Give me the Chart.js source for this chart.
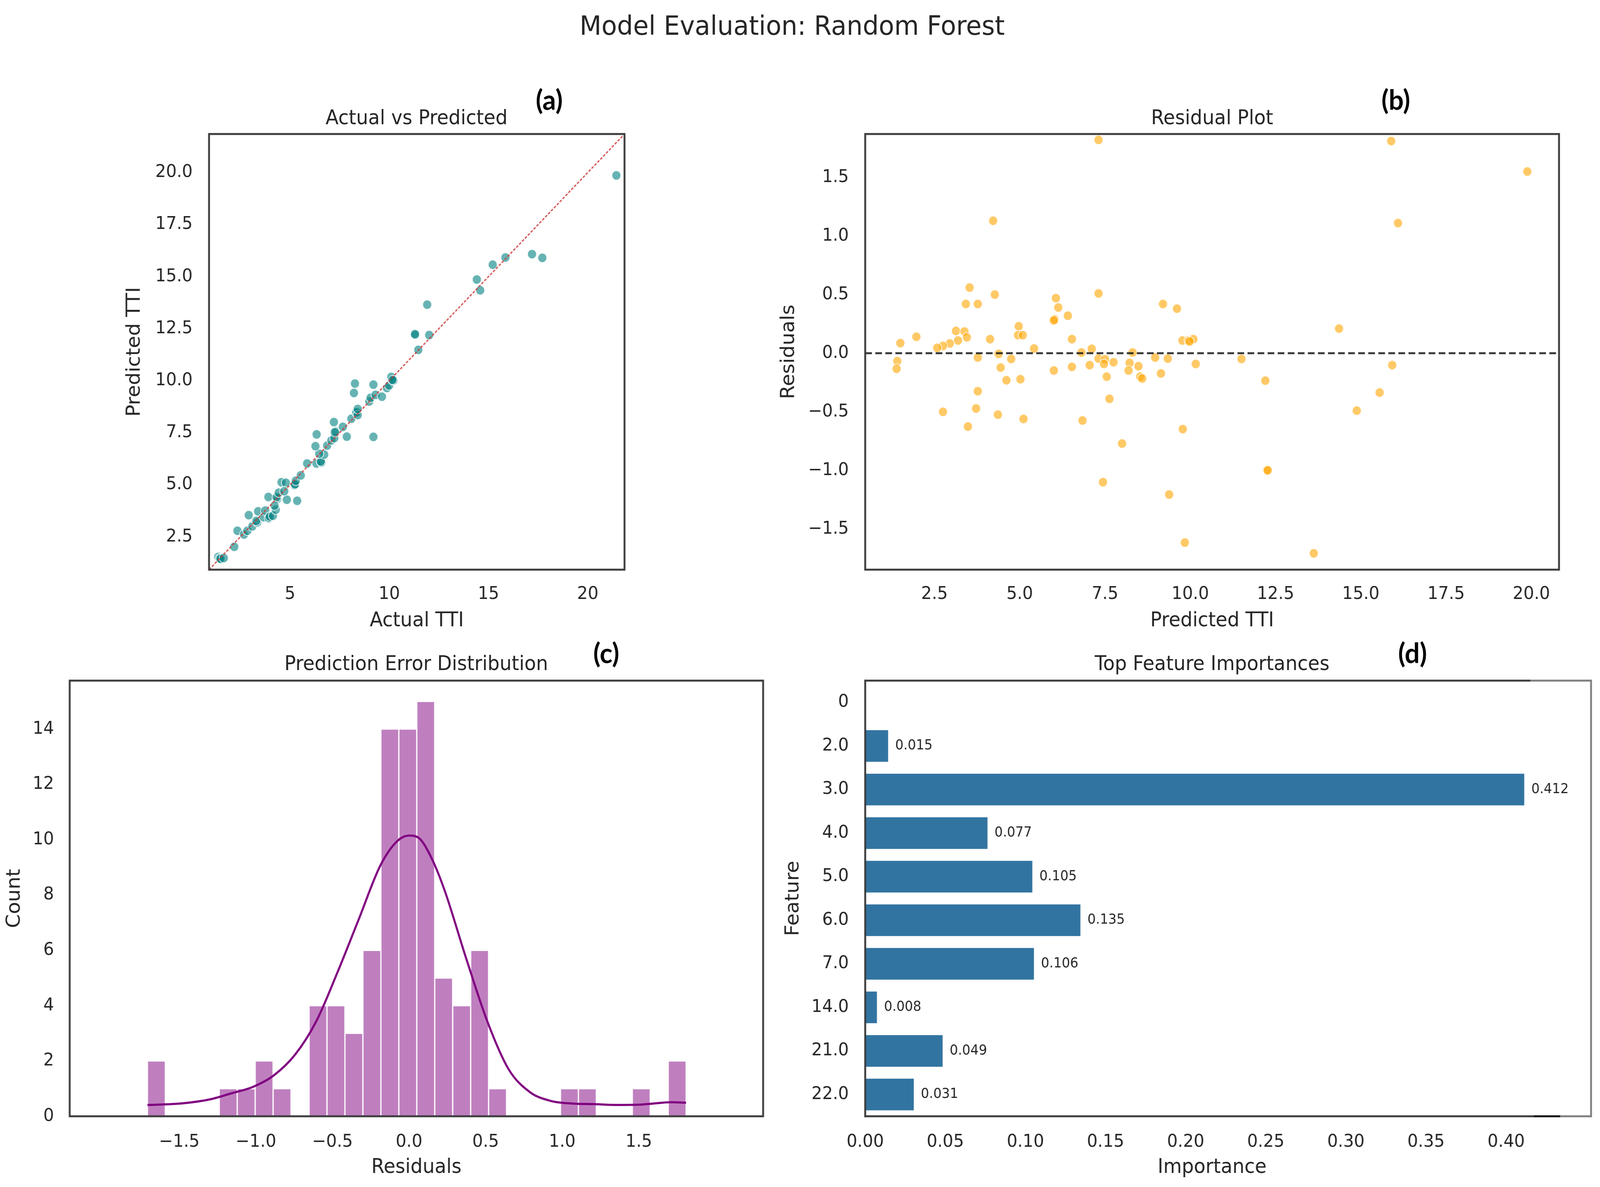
<!DOCTYPE html>
<html>
<head>
<meta charset="utf-8">
<script src="https://cdn.jsdelivr.net/npm/chart.js@4.4.1/dist/chart.umd.min.js"></script>
<style>
  html, body { margin: 0; padding: 0; background: #fff; overflow: hidden; }
  body { font-family: 'DejaVu Sans', sans-serif; color: #262626; }
  #page { position: absolute; left: 0; top: 0; width: 4294px; height: 3038px; transform-origin: 0 0; background: #fff; }
  canvas { position: absolute; }
  .txt { position: absolute; width: 2000px; text-align: center; white-space: nowrap; line-height: 1; }
  .tag { position: absolute; width: 300px; text-align: center; line-height: 1; font-family: Lato, sans-serif; font-weight: bold; color: #000; font-size: 71px; }
</style>
</head>
<body>
<div id="page">
  <div class="txt" style="left:1126px; top:32px; font-size:68px;">Model Evaluation: Random Forest</div>

  <div class="txt" style="left:118px; top:275px; font-size:51px;">Actual vs Predicted</div>
  <div class="txt" style="left:2253px; top:275px; font-size:51px;">Residual Plot</div>
  <div class="txt" style="left:117px; top:1672px; font-size:51px;">Prediction Error Distribution</div>
  <div class="txt" style="left:2253px; top:1672px; font-size:51px;">Top Feature Importances</div>

  <div class="tag" style="left:1324px; top:218px;">(a)</div>
  <div class="tag" style="left:3596px; top:218px;">(b)</div>
  <div class="tag" style="left:1477px; top:1634px;">(c)</div>
  <div class="tag" style="left:3641px; top:1634px;">(d)</div>

  <canvas id="chartA"></canvas>
  <canvas id="chartB"></canvas>
  <canvas id="chartC"></canvas>
  <canvas id="chartD"></canvas>
</div>

<script>
// (a) Actual vs Predicted
const actualTTI = [1.38, 1.45, 1.50, 1.66, 2.19, 2.35, 2.68, 2.85, 2.92, 3.10, 3.35, 3.30, 3.39, 3.67, 3.75, 3.93, 3.98, 4.14, 4.28, 3.91,
  4.36, 4.32, 4.43, 4.57, 4.79, 4.84, 4.71, 5.22, 5.25, 5.29, 5.36, 5.54, 5.86, 6.33, 6.58, 6.55, 6.72, 6.47, 6.28, 6.34,
  6.87, 7.08, 7.23, 7.30, 7.26, 7.21, 7.66, 7.86, 8.09, 8.38, 8.34, 8.41, 8.27, 8.22, 8.99, 9.06, 9.20, 9.20, 9.31, 9.63,
  9.88, 9.99, 10.13, 10.10, 10.21, 10.16, 11.28, 11.30, 11.46, 12.01, 11.91, 14.41, 14.58, 15.21, 15.85, 17.19, 17.71, 21.44, 4.22, 8.41];
const predictedTTI = [1.53, 1.46, 1.44, 1.48, 2.02, 2.79, 2.61, 2.79, 3.54, 3.00, 3.19, 3.26, 3.72, 3.44, 3.76, 3.40, 3.47, 3.51, 3.80, 4.41,
  4.33, 4.40, 4.62, 5.12, 5.09, 4.28, 4.69, 4.98, 5.02, 5.19, 4.23, 5.45, 6.02, 6.02, 6.07, 6.12, 6.45, 6.49, 6.85, 7.42,
  6.88, 7.13, 7.24, 7.56, 7.52, 8.01, 7.78, 7.31, 8.17, 8.50, 8.47, 8.35, 9.86, 9.41, 9.00, 9.18, 9.81, 7.30, 9.32, 9.23,
  9.65, 9.77, 10.08, 10.18, 10.01, 10.04, 12.26, 12.22, 11.48, 12.19, 13.65, 14.86, 14.34, 15.57, 15.92, 16.08, 15.90, 19.86, 4.00, 8.64];
const limitsA = [0.92, 21.85];
const ticksAX = [5, 10, 15, 20];
const ticksAY = [2.5, 5, 7.5, 10, 12.5, 15, 17.5, 20];

// (b) Residual plot
const predictedB = [7.31, 15.89, 19.88, 4.22, 16.09, 3.53, 4.27, 7.31, 3.42, 3.77, 6.06, 6.13, 9.20, 9.61, 6.41, 6.02, 6.00, 14.36, 3.13, 3.38,
  4.97, 1.97, 1.50, 3.45, 3.19, 2.95, 2.75, 2.58, 4.13, 4.95, 5.09, 6.53, 5.42, 9.77, 9.95, 10.09, 9.98, 7.11, 6.81, 8.31,
  1.41, 1.39, 3.77, 4.38, 4.75, 4.44, 4.61, 5.02, 6.00, 6.53, 7.05, 7.31, 7.50, 7.47, 7.75, 7.55, 8.22, 8.19, 8.48, 8.53,
  8.59, 8.97, 9.34, 9.14, 10.16, 11.50, 12.20, 15.92, 3.77, 7.63, 15.55, 2.75, 3.72, 14.88, 4.36, 5.11, 3.48, 6.84, 9.78, 8.00,
  12.25, 12.27, 7.44, 9.38, 9.84, 13.62];
const residualsB = [1.82, 1.81, 1.55, 1.13, 1.11, 0.56, 0.50, 0.51, 0.42, 0.42, 0.47, 0.39, 0.42, 0.38, 0.32, 0.29, 0.28, 0.21, 0.19, 0.185,
  0.23, 0.14, 0.086, 0.136, 0.108, 0.083, 0.062, 0.046, 0.12, 0.154, 0.154, 0.12, 0.04, 0.108, 0.108, 0.12, 0.10, 0.037, 0.006, 0.006,
  -0.068, -0.133, -0.037, -0.006, -0.049, -0.123, -0.231, -0.222, -0.148, -0.117, -0.102, -0.046, -0.052, -0.092, -0.077, -0.20, -0.083, -0.148, -0.111, -0.20,
  -0.216, -0.037, -0.046, -0.173, -0.092, -0.049, -0.234, -0.102, -0.324, -0.389, -0.336, -0.50, -0.472, -0.49, -0.524, -0.561, -0.626, -0.574, -0.648, -0.771,
  -0.996, -1.0, -1.10, -1.206, -1.616, -1.708];
const limitsBX = [0.47, 20.81];
const limitsBY = [-1.847, 1.87];
const ticksBX = [2.5, 5, 7.5, 10, 12.5, 15, 17.5, 20];
const ticksBY = [-1.5, -1, -0.5, 0, 0.5, 1, 1.5];

// (c) Prediction error distribution
const binCenters = [-1.6494, -1.5322, -1.4150, -1.2977, -1.1805, -1.0633, -0.9460, -0.8288, -0.7116, -0.5943,
  -0.4771, -0.3599, -0.2426, -0.1254, -0.0082, 0.1091, 0.2263, 0.3435, 0.4608, 0.5780,
  0.6952, 0.8125, 0.9297, 1.0469, 1.1642, 1.2814, 1.3986, 1.5159, 1.6331, 1.7503];
const binCounts = [2, 0, 0, 0, 1, 1, 2, 1, 0, 4, 4, 3, 6, 14, 14, 15, 5, 4, 6, 1, 0, 0, 0, 1, 1, 0, 0, 1, 0, 2];
const kdeX = [-1.708, -1.55, -1.44, -1.30, -1.16, -1.02, -0.885, -0.745, -0.606, -0.466, -0.327, -0.187, -0.075, 0.0, 0.064,
  0.148, 0.232, 0.371, 0.511, 0.650, 0.790, 0.929, 1.069, 1.20, 1.348, 1.50, 1.571, 1.711, 1.808];
const kdeY = [0.41, 0.44, 0.49, 0.61, 0.83, 1.06, 1.47, 2.22, 3.43, 5.22, 7.14, 9.07, 9.96, 10.15, 10.06,
  9.32, 8.17, 5.74, 3.43, 1.70, 0.87, 0.55, 0.46, 0.44, 0.41, 0.42, 0.45, 0.51, 0.49];
const limitsCX = [-1.892, 1.988];
const limitsCY = [0, 15.75];
const ticksCX = [-1.5, -1, -0.5, 0, 0.5, 1, 1.5];
const ticksCY = [0, 2, 4, 6, 8, 10, 12, 14];

// (d) Feature importances
const features = ['0', '2.0', '3.0', '4.0', '5.0', '6.0', '7.0', '14.0', '21.0', '22.0'];
const importances = [null, 0.015, 0.412, 0.077, 0.105, 0.135, 0.106, 0.008, 0.049, 0.031];
const limitsDX = [0, 0.433];
const ticksDX = [0, 0.05, 0.10, 0.15, 0.20, 0.25, 0.30, 0.35, 0.40];

const FONT = 'DejaVu Sans';
const TXT = '#262626';
const SPINE = '#3d3d3d';
const minus = s => s.replace('-', '\u2212');

// stretch the 4294x3038 figure onto whatever viewport we get
const sx = window.innerWidth / 4294, sy = window.innerHeight / 3038;
if (sx && sy && (Math.abs(sx - 1) > 0.002 || Math.abs(sy - 1) > 0.002)) {
  document.getElementById('page').style.transform = 'scale(' + sx + ',' + sy + ')';
}

// put a canvas so that its chart area lands on the given axes box
function placeCanvas(id, box, leftW, bottomH, padTop, padRight) {
  const c = document.getElementById(id);
  const left = box.l - leftW, top = box.t - padTop;
  const w = box.r - left + padRight, h = box.b + bottomH - top;
  c.style.left = left + 'px';
  c.style.top = top + 'px';
  c.width = w; c.height = h;
  c.style.width = w + 'px'; c.style.height = h + 'px';
  return c;
}

function axis(cfg) {
  const horizontal = cfg.position === 'bottom';
  const out = {
    type: cfg.type || 'linear',
    position: cfg.position,
    grid: { display: false, drawTicks: false },
    border: { display: false },
    ticks: {
      font: { family: FONT, size: 45 }, color: TXT, padding: cfg.pad,
      autoSkip: false, maxRotation: 0, minRotation: 0
    },
    title: { display: true, text: cfg.title, font: { family: FONT, size: 51 }, color: TXT, padding: 0 },
    afterFit: s => {
      if (horizontal) s.height = cfg.size; else s.width = cfg.size;
      s.paddingTop = 0; s.paddingBottom = 0; s.paddingLeft = 0; s.paddingRight = 0;
    }
  };
  if (out.type === 'linear') {
    out.min = cfg.lim[0];
    out.max = cfg.lim[1];
    out.afterBuildTicks = s => { s.ticks = cfg.ticks.map(v => ({ value: v })); };
    out.ticks.callback = cfg.fmt;
  }
  return out;
}

const boxFrame = {
  id: 'boxFrame',
  afterDatasetsDraw(chart) {
    const { ctx, chartArea: a } = chart;
    ctx.save();
    ctx.strokeStyle = SPINE;
    ctx.lineWidth = 5;
    ctx.strokeRect(a.left, a.top, a.right - a.left, a.bottom - a.top);
    ctx.restore();
  }
};

// panel d has a patched frame: the box runs on in grey past the axes
const patchedFrame = {
  id: 'patchedFrame',
  afterDatasetsDraw(chart) {
    const { ctx, chartArea: a } = chart;
    const ext = a.right + 86;
    const seg = (x1, y1, x2, y2, c) => {
      ctx.strokeStyle = c; ctx.beginPath(); ctx.moveTo(x1, y1); ctx.lineTo(x2, y2); ctx.stroke();
    };
    ctx.save();
    ctx.lineWidth = 5;
    seg(a.left, a.top - 2.5, a.left, a.bottom + 2.5, SPINE);
    seg(a.left, a.top, a.right - 77, a.top, SPINE);
    seg(a.right - 77, a.top, ext, a.top, '#808080');
    seg(ext, a.top - 2.5, ext, a.bottom + 2.5, '#808080');
    seg(a.left, a.bottom, a.right - 68, a.bottom, SPINE);
    seg(a.right - 68, a.bottom, a.right + 3, a.bottom, '#111');
    seg(a.right + 3, a.bottom, ext, a.bottom, '#808080');
    ctx.restore();
  }
};

const barValues = {
  id: 'barValues',
  afterDatasetsDraw(chart) {
    const { ctx } = chart;
    const meta = chart.getDatasetMeta(0);
    ctx.save();
    ctx.font = '35px "DejaVu Sans"';
    ctx.fillStyle = TXT;
    ctx.textAlign = 'left';
    ctx.textBaseline = 'middle';
    meta.data.forEach((bar, i) => {
      const v = importances[i];
      if (v == null) return;
      ctx.fillText(v.toFixed(3), bar.x + 16, bar.y);
    });
    ctx.restore();
  }
};

const base = {
  responsive: false,
  animation: false,
  devicePixelRatio: Math.max(1, window.devicePixelRatio || 1),
  plugins: { legend: { display: false }, tooltip: { enabled: false } }
};

// (a)
new Chart(placeCanvas('chartA', { l: 561, t: 343, r: 1676, b: 1458 }, 230, 162, 20, 40), {
  type: 'scatter',
  data: {
    datasets: [
      {
        type: 'line', order: 0,
        data: [{ x: limitsA[0], y: limitsA[0] }, { x: limitsA[1], y: limitsA[1] }],
        borderColor: 'rgba(205,60,60,0.85)', borderWidth: 3.5, borderDash: [7, 4], pointRadius: 0
      },
      {
        order: 1,
        data: actualTTI.map((x, i) => ({ x, y: predictedTTI[i] })),
        backgroundColor: 'rgba(0,128,128,0.6)', borderColor: 'rgba(255,255,255,0.85)',
        borderWidth: 2, pointRadius: 12
      }
    ]
  },
  options: {
    ...base,
    layout: { padding: { top: 20, right: 40, left: 0, bottom: 0 } },
    scales: {
      x: axis({ position: 'bottom', lim: limitsA, ticks: ticksAX, fmt: v => String(v), title: 'Actual TTI', pad: 36, size: 162 }),
      y: axis({ position: 'left', lim: limitsA, ticks: ticksAY, fmt: v => v.toFixed(1), title: 'Predicted TTI', pad: 44, size: 230 })
    }
  },
  plugins: [boxFrame]
});

// (b)
new Chart(placeCanvas('chartB', { l: 2322, t: 343, r: 4184, b: 1458 }, 235, 162, 20, 40), {
  type: 'scatter',
  data: {
    datasets: [
      {
        type: 'line', order: 0,
        data: [{ x: limitsBX[0], y: 0 }, { x: limitsBX[1], y: 0 }],
        borderColor: 'rgba(20,20,20,0.85)', borderWidth: 5, borderDash: [18, 9], pointRadius: 0
      },
      {
        order: 1,
        data: predictedB.map((x, i) => ({ x, y: residualsB[i] })),
        backgroundColor: 'rgba(255,165,0,0.6)', borderColor: 'rgba(255,255,255,0.85)',
        borderWidth: 2, pointRadius: 12
      }
    ]
  },
  options: {
    ...base,
    layout: { padding: { top: 20, right: 40, left: 0, bottom: 0 } },
    scales: {
      x: axis({ position: 'bottom', lim: limitsBX, ticks: ticksBX, fmt: v => v.toFixed(1), title: 'Predicted TTI', pad: 36, size: 162 }),
      y: axis({ position: 'left', lim: limitsBY, ticks: ticksBY, fmt: v => minus(v.toFixed(1)), title: 'Residuals', pad: 44, size: 235 })
    }
  },
  plugins: [boxFrame]
});

// (c)
new Chart(placeCanvas('chartC', { l: 187, t: 1742, r: 2048, b: 2857 }, 178, 162, 20, 40), {
  type: 'bar',
  data: {
    datasets: [
      {
        type: 'line', order: 0,
        data: kdeX.map((x, i) => ({ x, y: kdeY[i] })),
        borderColor: '#800080', borderWidth: 5.5, pointRadius: 0,
        cubicInterpolationMode: 'monotone'
      },
      {
        type: 'bar', order: 1,
        data: binCenters.map((x, i) => ({ x, y: binCounts[i] })),
        backgroundColor: 'rgba(128,0,128,0.5)', borderColor: '#ffffff', borderWidth: 2,
        borderSkipped: false, barPercentage: 1, categoryPercentage: 1
      }
    ]
  },
  options: {
    ...base,
    layout: { padding: { top: 20, right: 40, left: 0, bottom: 0 } },
    scales: {
      x: axis({ position: 'bottom', lim: limitsCX, ticks: ticksCX, fmt: v => minus(v.toFixed(1)), title: 'Residuals', pad: 39, size: 162 }),
      y: axis({ position: 'left', lim: limitsCY, ticks: ticksCY, fmt: v => String(v), title: 'Count', pad: 42, size: 178 })
    }
  },
  plugins: [boxFrame]
});

// (d)
new Chart(placeCanvas('chartD', { l: 2322, t: 1742, r: 4184, b: 2857 }, 223, 162, 20, 110), {
  type: 'bar',
  data: {
    labels: features,
    datasets: [{
      data: importances,
      backgroundColor: '#3274a1', borderColor: 'rgba(255,255,255,0.45)', borderWidth: 3,
      borderSkipped: 'start', barPercentage: 0.78, categoryPercentage: 1
    }]
  },
  options: {
    ...base,
    indexAxis: 'y',
    layout: { padding: { top: 20, right: 110, left: 0, bottom: 0 } },
    scales: {
      x: axis({ position: 'bottom', lim: limitsDX, ticks: ticksDX, fmt: v => v.toFixed(2), title: 'Importance', pad: 39, size: 162 }),
      y: axis({ type: 'category', position: 'left', title: 'Feature', pad: 44, size: 223 })
    }
  },
  plugins: [patchedFrame, barValues]
});
</script>
</body>
</html>
